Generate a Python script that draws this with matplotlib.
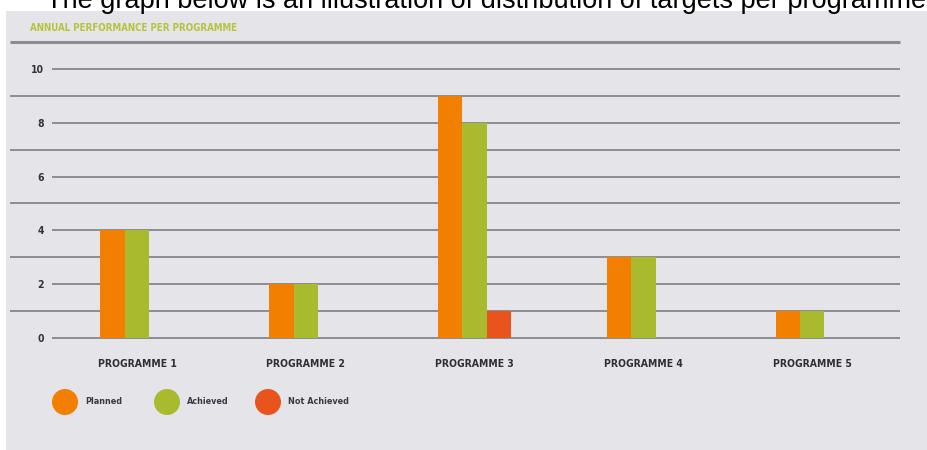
import numpy as np
import matplotlib
matplotlib.use("Agg")
import matplotlib.pyplot as plt
from matplotlib.patches import Rectangle, Ellipse
import matplotlib.transforms as mtransforms

# targets per programme
programmes = ["PROGRAMME 1", "PROGRAMME 2", "PROGRAMME 3", "PROGRAMME 4", "PROGRAMME 5"]
planned = [4, 2, 9, 3, 1]
achieved = [4, 2, 8, 3, 1]
not_achieved = [0, 0, 1, 0, 0]

series_names = ["Planned", "Achieved", "Not Achieved"]
series_colors = ["#f27f00", "#a9ba2f", "#e9541c"]
ytick_vals = [0, 2, 4, 6, 8, 10]

W, H = 928, 450
narrow = dict(family="DejaVu Sans", fontstretch="condensed", fontweight="bold")

fig = plt.figure(figsize=(W / 100, H / 100), dpi=100)
fig.patch.set_facecolor("white")

# grey panel behind the chart
fig.patches.append(Rectangle((6 / W, 0), 1, (H - 11) / H, transform=fig.transFigure,
                             facecolor="#e4e4e9", edgecolor="none", zorder=-5))

fig.text(46 / W, (H - 8) / H, "The graph below is an illustration of distribution of targets per programme",
         family="Liberation Sans", fontsize=19.5, color="black", va="baseline", ha="left")
fig.text(30 / W, (H - 28) / H, "ANNUAL PERFORMANCE PER PROGRAMME", fontsize=7,
         color="#b6c43c", va="center", ha="left", **narrow)

ax = fig.add_axes([52 / W, (H - 338) / H, (900 - 52) / W, (338 - 42) / H])
ax.set_facecolor("none")
ax.set_xlim(-0.504, 4.52)
ax.set_ylim(0, 11)
for s in ax.spines.values():
    s.set_visible(False)

# grid lines: labelled ones start after the tick labels, the rest run to the panel edge
grid_col = "#8c8c92"
left_ext = (10 - 52) / (900 - 52)
trans = mtransforms.blended_transform_factory(ax.transAxes, ax.transData)
for v in range(0, 12):
    x0 = 0 if v in ytick_vals else left_ext
    lw = 2.2 if v == 11 else 1.4
    ax.plot([x0, 1], [v, v], transform=trans, color=grid_col, lw=lw,
            clip_on=False, zorder=1, solid_capstyle="butt")

x = np.arange(len(programmes))
w = 0.145
for k, (vals, col) in enumerate(zip([planned, achieved, not_achieved], series_colors)):
    ax.bar(x + (k - 1) * w, vals, width=w, color=col, zorder=2, label=series_names[k])

ax.set_yticks(ytick_vals)
ax.set_yticklabels([str(v) for v in ytick_vals], fontsize=7.5, color="#33333a", **narrow)
ax.set_xticks(x)
ax.set_xticklabels(programmes, fontsize=7.5, color="#2e2e36", **narrow)
ax.tick_params(axis="y", length=0, pad=6)
ax.tick_params(axis="x", length=0, pad=15)

# legend: coloured dots with labels
leg_x = [65, 167, 268]
leg_y = 402
for cx, name, col in zip(leg_x, series_names, series_colors):
    fig.add_artist(Ellipse((cx / W, (H - leg_y) / H), 26 / W, 26 / H,
                           transform=fig.transFigure, facecolor=col, edgecolor="none"))
    fig.text((cx + 20) / W, (H - leg_y) / H, name, fontsize=6.5, color="#3a3a44",
             va="center", ha="left", **narrow)

fig.savefig("out.png", dpi=100)
